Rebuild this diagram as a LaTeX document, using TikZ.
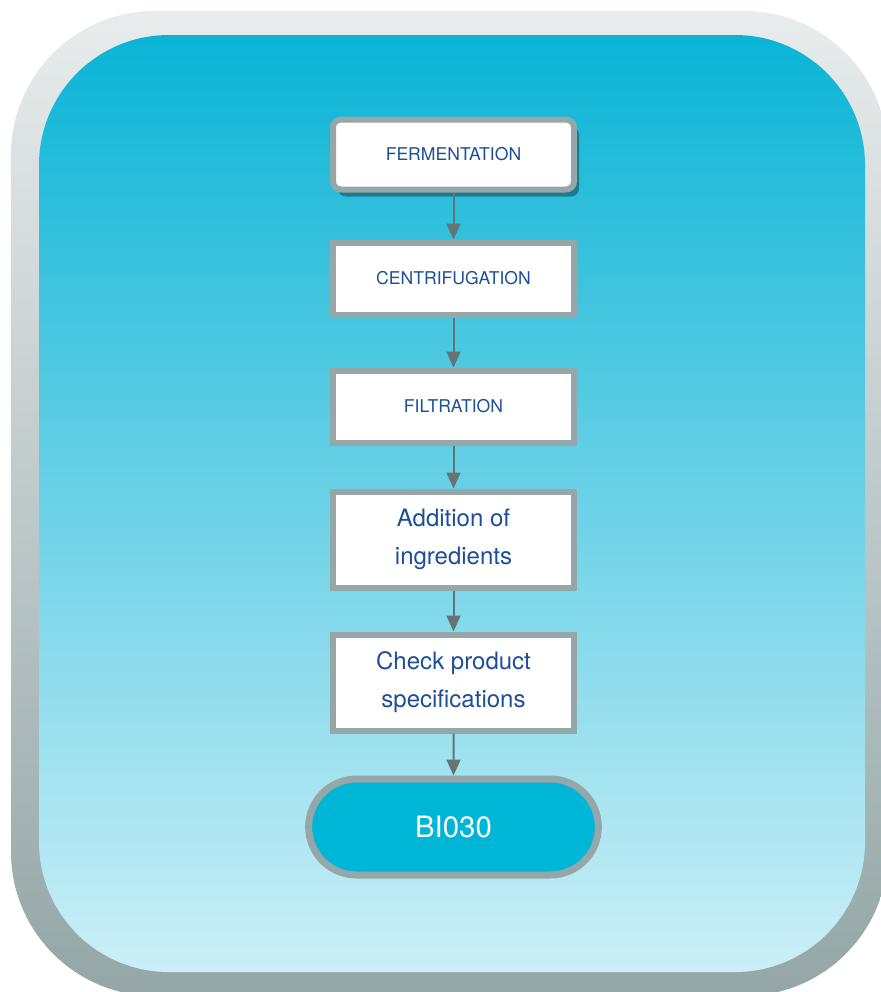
\documentclass[tikz,border=0pt]{standalone}
\usepackage{fontspec}
\setmainfont{TeX Gyre Heros}
\usepackage{xcolor}
\usepackage{tikz}
\definecolor{framelight}{RGB}{232, 236, 237}
\definecolor{framedark}{RGB}{148, 166, 167}
\definecolor{paneltop}{RGB}{10, 180, 214}
\definecolor{panelmid}{RGB}{141, 211, 232}
\definecolor{panelbottom}{RGB}{204, 239, 247}
\definecolor{boxborder}{RGB}{149, 167, 168}
\definecolor{textblue}{RGB}{30, 79, 150}
\definecolor{arrowgray}{RGB}{100, 116, 117}
\definecolor{endcyan}{RGB}{0, 182, 215}
\usetikzlibrary{arrows.meta, positioning, shadows, shapes.misc}

\begin{document}
\begin{tikzpicture}[
    x=1pt, y=1pt,
    node distance=21pt,
    stepbox/.style={rectangle, draw=boxborder, line width=3pt, fill=white,
                minimum width=120.5pt, minimum height=36pt, align=center,
                text=textblue, font=\fontsize{8.8}{10}\selectfont},
    twoline/.style={minimum height=48pt, font=\fontsize{12}{19}\selectfont},
    endbox/.style={rounded rectangle, draw=boxborder, line width=3.5pt, fill=endcyan,
                minimum width=151.5pt, minimum height=48pt, text=white,
                font=\fontsize{14.7}{17}\selectfont},
    arrow/.style={-{Triangle[width=7pt, length=8pt]}, line width=1pt, arrowgray}
]
    \useasboundingbox (0,0) rectangle (440,-496);

    % Frame and panel
    \shade[top color=framelight, bottom color=framedark, rounded corners=72pt]
        (5.5,-5.5) rectangle (444,-498);
    \shade[top color=paneltop, middle color=panelmid, bottom color=panelbottom,
           rounded corners=65pt]
        (19.5,-17.5) rectangle (432.5,-486);

    \node[stepbox, minimum height=35pt, rounded corners=4pt,
          drop shadow={shadow xshift=2.5pt, shadow yshift=-3.5pt, fill=black, opacity=0.35}]
          (ferment) at (226.75,-77.25) {FERMENTATION};
    \node[stepbox, below=23.5pt of ferment] (centrif) {CENTRIFUGATION};
    \node[stepbox, below=25pt of centrif] (filtr) {FILTRATION};
    \node[stepbox, twoline, below=21.5pt of filtr] (addit) {Addition of\\ingredients};
    \node[stepbox, twoline, below=20.5pt of addit] (check) {Check product\\specifications};
    \node[endbox, below=of check] (bi) {BI030};

    \draw[arrow] (ferment) -- (centrif);
    \draw[arrow] (centrif) -- (filtr);
    \draw[arrow] (filtr) -- (addit);
    \draw[arrow] (addit) -- (check);
    \draw[arrow] (check) -- (bi);
\end{tikzpicture}
\end{document}
